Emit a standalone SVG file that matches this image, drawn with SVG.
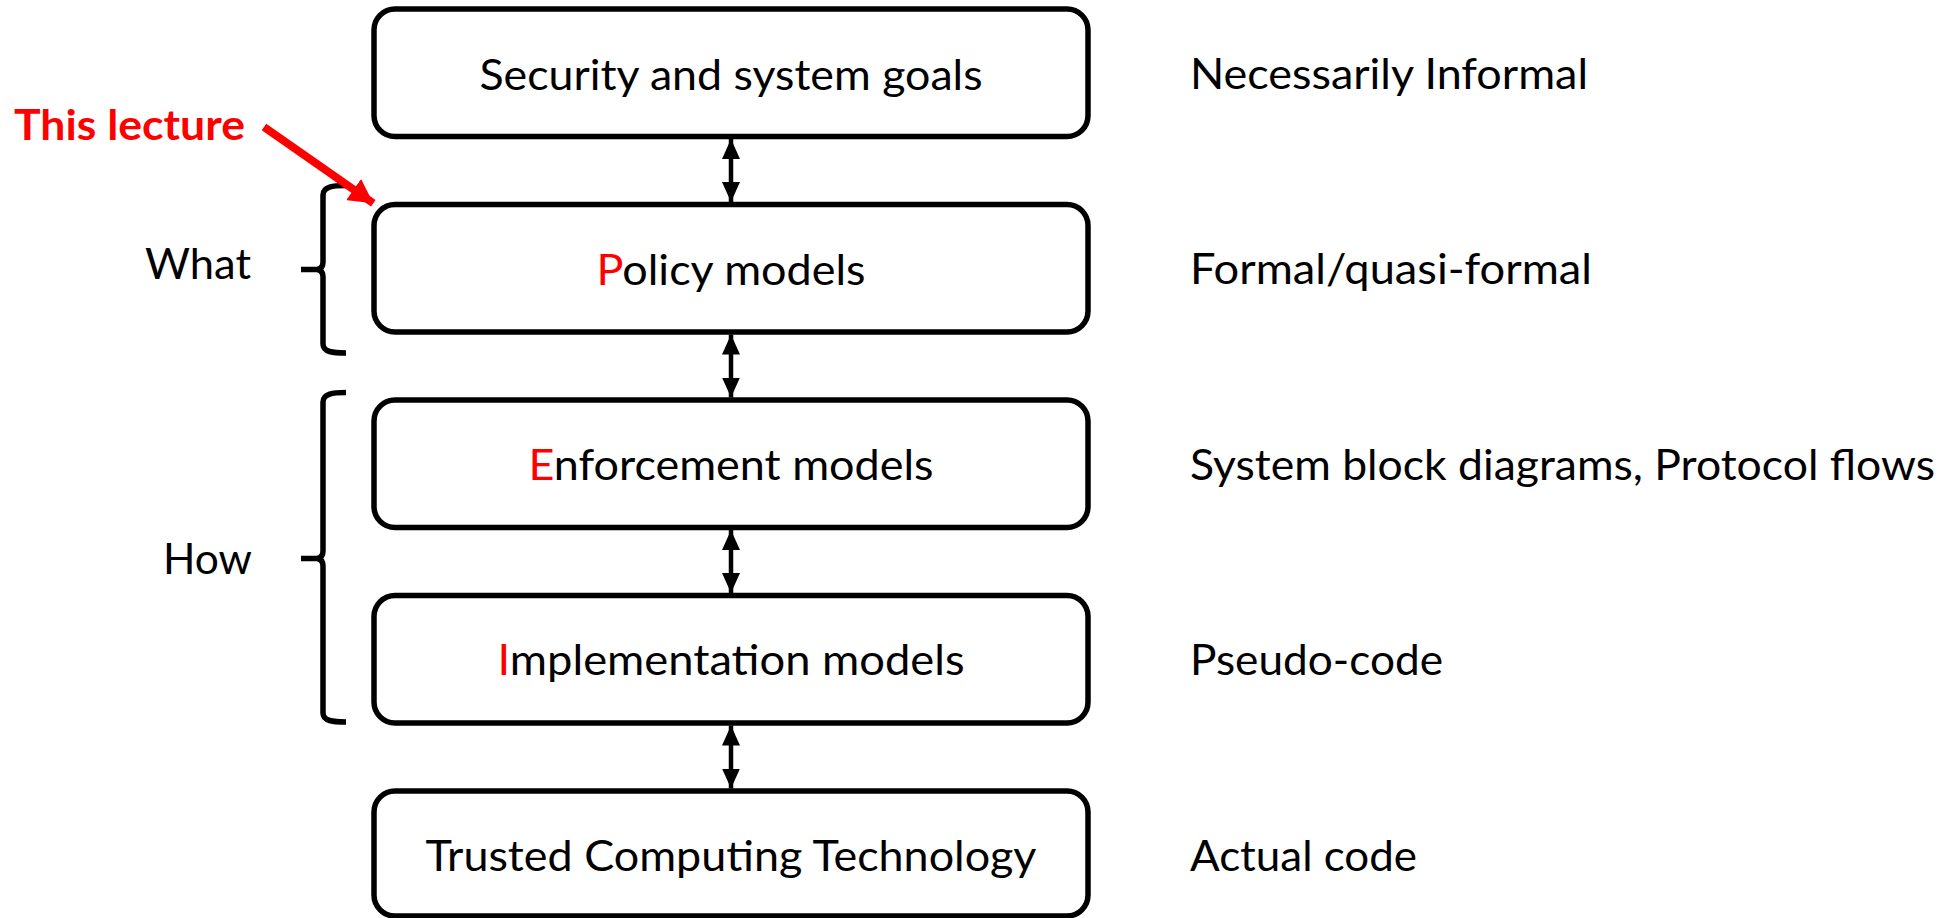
<svg xmlns="http://www.w3.org/2000/svg" width="1947" height="918" viewBox="0 0 1947 918">
  <style>
    .box { fill: #ffffff; stroke: #000000; stroke-width: 5.5; }
    .lbl { font-family: "Lato", "Liberation Sans", sans-serif; font-size: 42px; fill: #000000; }
    .mid { text-anchor: middle; }
    .hl { fill: #ff0000; }
    .note { font-family: "Lato", "Liberation Sans", sans-serif; font-size: 42px; font-weight: bold; fill: #ff0000; }
    .link { stroke: #000000; stroke-width: 4.5; fill: none; marker-start: url(#head); marker-end: url(#head); }
    .brace { stroke: #000000; stroke-width: 5.5; fill: none; stroke-linecap: butt; stroke-linejoin: round; }
    .pointer { stroke: #ff0000; stroke-width: 8; fill: none; marker-end: url(#redhead); }
  </style>
  <defs>
    <marker id="head" viewBox="0 0 20 18" refX="20" refY="9" markerWidth="20" markerHeight="18" markerUnits="userSpaceOnUse" orient="auto-start-reverse">
      <path d="M0,0 L20,9 L0,18 Z" fill="#000000"/>
    </marker>
    <marker id="redhead" viewBox="0 0 24 26" refX="24" refY="13" markerWidth="24" markerHeight="26" markerUnits="userSpaceOnUse" orient="auto">
      <path d="M0,0 L24,13 L0,26 Z" fill="#ff0000"/>
    </marker>
  </defs>

  <rect width="1947" height="918" fill="#ffffff"/>

  <!-- vertical links between layers -->
  <g id="connectors">
    <line class="link" x1="731" y1="139" x2="731" y2="202"/>
    <line class="link" x1="731" y1="334.5" x2="731" y2="397.5"/>
    <line class="link" x1="731" y1="530" x2="731" y2="593"/>
    <line class="link" x1="731" y1="725.5" x2="731" y2="788.5"/>
  </g>

  <g id="node-goals">
    <rect class="box" x="374" y="9" width="714" height="127.5" rx="21"/>
    <text class="lbl mid" x="731" y="90" textLength="503" lengthAdjust="spacingAndGlyphs">Security and system goals</text>
  </g>

  <g id="node-policy">
    <rect class="box" x="374" y="204.5" width="714" height="127.5" rx="21"/>
    <text class="lbl mid" x="731" y="285" textLength="269" lengthAdjust="spacingAndGlyphs"><tspan class="hl">P</tspan>olicy models</text>
  </g>

  <g id="node-enforcement">
    <rect class="box" x="374" y="400" width="714" height="127.5" rx="21"/>
    <text class="lbl mid" x="731" y="480" textLength="405" lengthAdjust="spacingAndGlyphs"><tspan class="hl">E</tspan>nforcement models</text>
  </g>

  <g id="node-implementation">
    <rect class="box" x="374" y="595.5" width="714" height="127.5" rx="21"/>
    <text class="lbl mid" x="731" y="675" textLength="467" lengthAdjust="spacingAndGlyphs"><tspan class="hl">I</tspan>mplementation models</text>
  </g>

  <g id="node-tct">
    <rect class="box" x="374" y="791" width="714" height="125" rx="21"/>
    <text class="lbl mid" x="731" y="871" textLength="611" lengthAdjust="spacingAndGlyphs">Trusted Computing Technology</text>
  </g>

  <!-- descriptions on the right -->
  <g id="descriptions">
    <text class="lbl" x="1190" y="89" textLength="398" lengthAdjust="spacingAndGlyphs">Necessarily Informal</text>
    <text class="lbl" x="1190" y="284" textLength="402" lengthAdjust="spacingAndGlyphs">Formal/quasi-formal</text>
    <text class="lbl" x="1190" y="480" textLength="745" lengthAdjust="spacingAndGlyphs">System block diagrams, Protocol flows</text>
    <text class="lbl" x="1190" y="675" textLength="253" lengthAdjust="spacingAndGlyphs">Pseudo-code</text>
    <text class="lbl" x="1190" y="871" textLength="227" lengthAdjust="spacingAndGlyphs">Actual code</text>
  </g>

  <!-- grouping braces -->
  <g id="group-what">
    <path class="brace" d="M346,185.5 C333,185.5 323,186.5 323,195 L323,262 C323,267 321,269 317,269.5 L301,269.5 M317,269.5 C321,270 323,272 323,277 L323,344 C323,352 333,353 346,353"/>
    <text class="lbl" x="145" y="279" textLength="106" lengthAdjust="spacingAndGlyphs">What</text>
  </g>

  <g id="group-how">
    <path class="brace" d="M346,392.5 C333,392.5 323,393.5 323,402 L323,551 C323,556 321,558 317,558.5 L301,558.5 M317,558.5 C321,559 323,561 323,566 L323,713 C323,721 333,722 346,722"/>
    <text class="lbl" x="163" y="574" textLength="89" lengthAdjust="spacingAndGlyphs">How</text>
  </g>

  <!-- highlight callout -->
  <g id="callout">
    <text class="note" x="14" y="140" textLength="231" lengthAdjust="spacingAndGlyphs">This lecture</text>
    <line class="pointer" x1="264" y1="127" x2="373.3" y2="203.3"/>
  </g>
</svg>
